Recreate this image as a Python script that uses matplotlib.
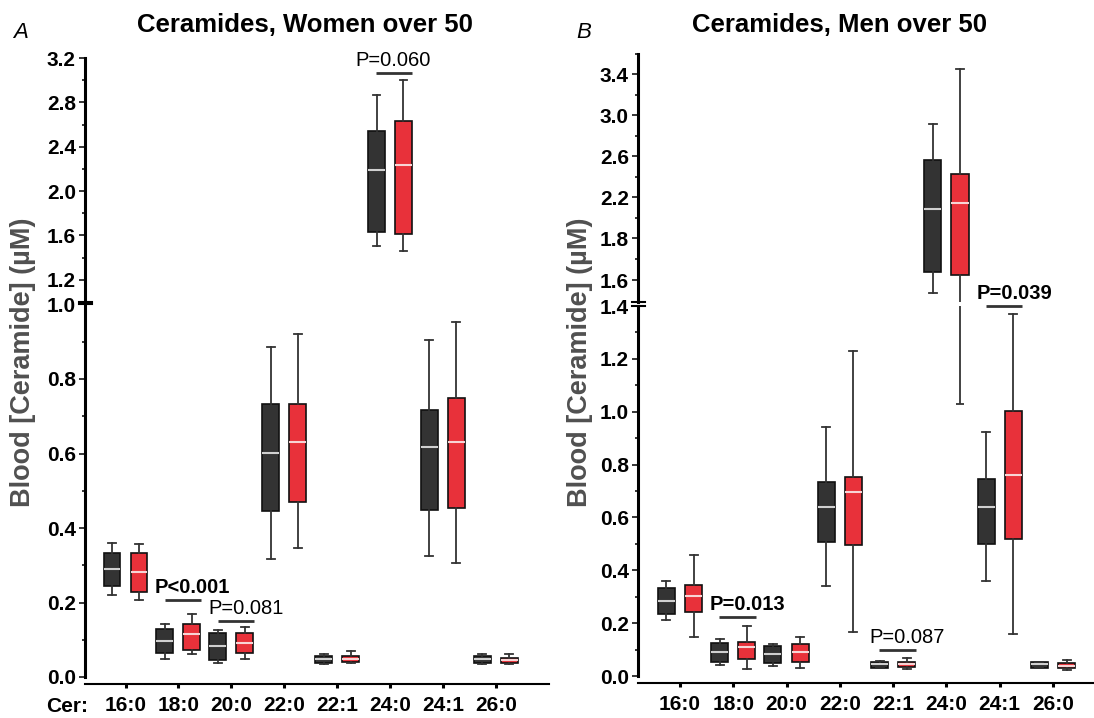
import matplotlib.pyplot as plt

plt.rcParams['font.family'] = ['Liberation Sans', 'DejaVu Sans']

W, H = 1094, 718

categories = ['16:0', '18:0', '20:0', '22:0', '22:1', '24:0', '24:1', '26:0']

# five-number summaries: (whisker low, Q1, median, Q3, whisker high), uM
women_dark = [
    (0.220, 0.244, 0.289, 0.332, 0.359),
    (0.048, 0.065, 0.096, 0.130, 0.142),
    (0.038, 0.045, 0.083, 0.118, 0.126),
    (0.317, 0.446, 0.602, 0.734, 0.885),
    (0.034, 0.038, 0.047, 0.056, 0.061),
    (1.503, 1.632, 2.188, 2.539, 2.870),
    (0.325, 0.449, 0.617, 0.717, 0.904),
    (0.034, 0.038, 0.047, 0.056, 0.061),
]
women_red = [
    (0.208, 0.227, 0.282, 0.332, 0.356),
    (0.061, 0.072, 0.115, 0.142, 0.170),
    (0.049, 0.065, 0.092, 0.118, 0.135),
    (0.345, 0.469, 0.632, 0.734, 0.921),
    (0.038, 0.040, 0.049, 0.057, 0.069),
    (1.458, 1.614, 2.233, 2.635, 3.005),
    (0.305, 0.453, 0.632, 0.749, 0.954),
    (0.034, 0.038, 0.045, 0.052, 0.061),
]
men_dark = [
    (0.213, 0.234, 0.285, 0.333, 0.361),
    (0.042, 0.054, 0.092, 0.124, 0.141),
    (0.038, 0.048, 0.082, 0.114, 0.120),
    (0.339, 0.508, 0.639, 0.734, 0.943),
    (0.029, 0.032, 0.044, 0.054, 0.057),
    (1.264, 1.465, 2.085, 2.559, 2.910),
    (0.361, 0.501, 0.639, 0.744, 0.925),
    (0.029, 0.032, 0.044, 0.054, 0.054),
]
men_red = [
    (0.147, 0.241, 0.301, 0.344, 0.458),
    (0.025, 0.065, 0.108, 0.130, 0.190),
    (0.029, 0.054, 0.089, 0.120, 0.146),
    (0.168, 0.497, 0.696, 0.754, 1.228),
    (0.025, 0.035, 0.044, 0.054, 0.070),
    (1.029, 1.436, 2.137, 2.423, 3.445),
    (0.158, 0.520, 0.761, 1.001, 1.368),
    (0.023, 0.029, 0.039, 0.048, 0.061),
]

# p-value notes: (category, bar height, label, bold)
women_p = [('18:0', 0.206, 'P<0.001', True),
           ('20:0', 0.151, 'P=0.081', False),
           ('24:0', 3.067, 'P=0.060', False)]
men_p = [('18:0', 0.225, 'P=0.013', True),
         ('22:1', 0.099, 'P=0.087', False),
         ('24:1', 1.400, 'P=0.039', True)]

# broken y axis: lower segment and upper segment ticks
women_low_ticks = [0.0, 0.2, 0.4, 0.6, 0.8, 1.0]
women_up_ticks = [1.2, 1.6, 2.0, 2.4, 2.8, 3.2]
women_up_labels = ['1.2', '1.6', '2.0', '2.4', '2.8', '3.2']
men_low_ticks = [0.0, 0.2, 0.4, 0.6, 0.8, 1.0, 1.2, 1.4]
men_up_ticks = [1.39, 1.8, 2.2, 2.6, 3.0, 3.4]
men_up_labels = ['1.6', '1.8', '2.2', '2.6', '3.0', '3.4']

DARK = '#333333'
RED = '#e8313a'


def px_rect(left, top, right, bottom):
    return [left / W, 1 - bottom / H, (right - left) / W, (bottom - top) / H]


def stats(rows):
    return [dict(whislo=r[0], q1=r[1], med=r[2], q3=r[3], whishi=r[4], fliers=[]) for r in rows]


def draw_boxes(ax, rows, pos, face, med_col):
    if not rows:
        return
    ax.bxp(stats(rows), positions=pos, widths=0.32, capwidths=0.15,
           patch_artist=True, showfliers=False, manage_ticks=False,
           boxprops=dict(facecolor=face, edgecolor='#111111', linewidth=1.2),
           medianprops=dict(color=med_col, linewidth=1.5),
           whiskerprops=dict(color='#333333', linewidth=1.3),
           capprops=dict(color='#333333', linewidth=1.3))


def style_y(ax, lw=2.2):
    ax.spines['top'].set_visible(False)
    ax.spines['right'].set_visible(False)
    ax.spines['left'].set_linewidth(lw)
    ax.tick_params(axis='y', which='major', direction='out', length=4.5, width=1.1,
                   pad=2, labelsize=15)
    ax.tick_params(axis='y', which='minor', direction='out', length=2.2, width=1.1)
    for t in ax.get_yticklabels():
        t.set_fontweight('bold')


def panel(fig, low_box, up_box, xlim, dark, red, low_lim, up_lim,
          low_ticks, up_ticks, up_labels, up_minor, notes):
    ax_lo = fig.add_axes(px_rect(*low_box))
    ax_up = fig.add_axes(px_rect(*up_box))
    n = len(categories)
    idx = {c: i for i, c in enumerate(categories)}

    for ax in (ax_lo, ax_up):
        ax.set_xlim(*xlim)
        ax.patch.set_alpha(0)

    # boxes live on the segment that holds their median
    for rows, off, face, med in ((dark, -0.255, DARK, '#d0d0d0'), (red, 0.255, RED, '#f8d4d5')):
        lo_i = [i for i in range(n) if rows[i][2] <= low_lim[1]]
        up_i = [i for i in range(n) if rows[i][2] > low_lim[1]]
        draw_boxes(ax_lo, [rows[i] for i in lo_i], [i + off for i in lo_i], face, med)
        draw_boxes(ax_up, [rows[i] for i in up_i], [i + off for i in up_i], face, med)
        # whiskers reaching below the break continue on the lower segment
        for i in up_i:
            if rows[i][0] < up_lim[0]:
                ax_lo.vlines(i + off, rows[i][0], low_lim[1], color='#333333', lw=1.3)
                ax_lo.hlines(rows[i][0], i + off - 0.075, i + off + 0.075, color='#333333', lw=1.3)

    ax_lo.set_ylim(*low_lim)
    ax_up.set_ylim(*up_lim)

    ax_lo.set_yticks(low_ticks)
    ax_lo.set_yticklabels([f'{v:.1f}' for v in low_ticks])
    ax_lo.set_yticks([v + 0.1 for v in low_ticks[:-1]], minor=True)
    ax_up.set_yticks(up_ticks)
    ax_up.set_yticklabels(up_labels)
    ax_up.set_yticks(up_minor, minor=True)

    style_y(ax_lo)
    style_y(ax_up)
    ax_lo.spines['left'].set_bounds(low_lim[0], low_lim[1])
    ax_up.spines['bottom'].set_visible(False)
    ax_up.tick_params(axis='x', bottom=False, labelbottom=False)

    # detached category axis
    ax_lo.spines['bottom'].set_position(('outward', 5))
    ax_lo.spines['bottom'].set_linewidth(1.5)
    ax_lo.set_xticks(range(n))
    ax_lo.set_xticklabels(categories, fontsize=15, fontweight='bold')
    ax_lo.tick_params(axis='x', direction='out', length=2.6, width=2.2, pad=6)

    # break marks
    wpx = low_box[2] - low_box[0]
    d = 6.5 / wpx
    ax_up.plot([-d, d], [0, 0], transform=ax_up.transAxes, color='k', lw=1.5, clip_on=False)
    ax_lo.plot([-d, d], [1, 1], transform=ax_lo.transAxes, color='k', lw=1.5, clip_on=False)

    for cat, yb, label, bold in notes:
        i = idx[cat]
        ax = ax_lo if yb <= low_lim[1] else ax_up
        ax.plot([i - 0.26, i + 0.42], [yb, yb], color='#333333', lw=2.0,
                solid_capstyle='butt', clip_on=False)
        dx = 0.06 if ax is ax_up else 0.27
        ax.annotate(label, (i + dx, yb), xytext=(0, 9), textcoords='offset points',
                    ha='center', va='center', fontsize=14.5,
                    fontweight='bold' if bold else 'normal', annotation_clip=False)
    return ax_lo, ax_up


fig = plt.figure(figsize=(W / 100, H / 100), dpi=100)

panel(fig, (85, 304.5, 549, 677), (85, 58, 549, 302), (-0.766, 8.006),
      women_dark, women_red, (0.0, 1.0), (1.0, 3.2),
      women_low_ticks, women_up_ticks, women_up_labels, [1.4, 1.8, 2.2, 2.6, 3.0], women_p)
panel(fig, (638, 306, 1094, 676), (638, 53.5, 1094, 302), (-0.788, 7.77),
      men_dark, men_red, (0.0, 1.4), (1.176, 3.6),
      men_low_ticks, men_up_ticks, men_up_labels, [1.6, 2.0, 2.4, 2.8, 3.2, 3.6], men_p)


def ftext(x, y, s, **kw):
    fig.text(x / W, 1 - y / H, s, **kw)


ftext(305, 25, 'Ceramides, Women over 50', fontsize=18.5, fontweight='bold', ha='center', va='center')
ftext(839, 25, 'Ceramides, Men over 50', fontsize=18.5, fontweight='bold', ha='center', va='center')
ftext(13, 33, 'A', fontsize=16, fontstyle='italic', ha='left', va='center')
ftext(576, 33, 'B', fontsize=16, fontstyle='italic', ha='left', va='center')
for xl in (23, 580):
    ftext(xl, 362, 'Blood [Ceramide] (µM)', fontsize=19.5, fontweight='bold', color='#505050',
          rotation=90, ha='center', va='center')
ftext(67, 707, 'Cer:', fontsize=15, fontweight='bold', ha='center', va='center')

fig.savefig('out.png', dpi=100)
